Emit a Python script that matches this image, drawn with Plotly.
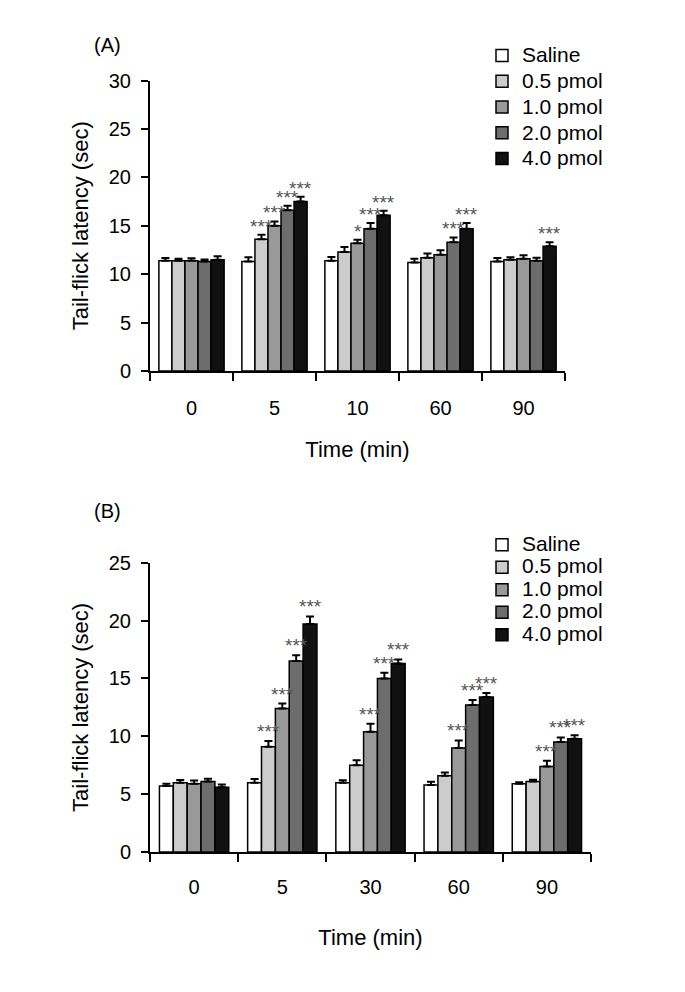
import plotly.graph_objects as go

# ---------------- data ----------------
groups = ["Saline", "0.5 pmol", "1.0 pmol", "2.0 pmol", "4.0 pmol"]
colors = ["#ffffff", "#cccccc", "#999999", "#6d6d6d", "#111111"]

times_a = ["0", "5", "10", "60", "90"]
a_saline = [11.4, 11.3, 11.4, 11.2, 11.3]
a_p05 = [11.4, 13.6, 12.3, 11.7, 11.5]
a_p10 = [11.4, 15.0, 13.2, 12.0, 11.6]
a_p20 = [11.3, 16.6, 14.7, 13.3, 11.4]
a_p40 = [11.5, 17.5, 16.1, 14.7, 12.9]
a_err_saline = [0.27, 0.45, 0.38, 0.40, 0.38]
a_err_p05 = [0.20, 0.48, 0.50, 0.45, 0.25]
a_err_p10 = [0.25, 0.45, 0.35, 0.48, 0.37]
a_err_p20 = [0.22, 0.48, 0.58, 0.50, 0.30]
a_err_p40 = [0.35, 0.50, 0.45, 0.58, 0.40]
a_sig_saline = ["", "", "", "", ""]
a_sig_p05 = ["", "***", "", "", ""]
a_sig_p10 = ["", "***", "*", "", ""]
a_sig_p20 = ["", "***", "***", "***", ""]
a_sig_p40 = ["", "***", "***", "***", "***"]

times_b = ["0", "5", "30", "60", "90"]
b_saline = [5.7, 6.0, 6.0, 5.8, 5.9]
b_p05 = [6.0, 9.1, 7.5, 6.6, 6.1]
b_p10 = [5.9, 12.4, 10.4, 9.0, 7.4]
b_p20 = [6.1, 16.5, 15.0, 12.7, 9.5]
b_p40 = [5.6, 19.7, 16.3, 13.4, 9.8]
b_err_saline = [0.20, 0.32, 0.20, 0.28, 0.14]
b_err_p05 = [0.23, 0.49, 0.43, 0.28, 0.14]
b_err_p10 = [0.28, 0.43, 0.68, 0.65, 0.50]
b_err_p20 = [0.23, 0.51, 0.49, 0.43, 0.40]
b_err_p40 = [0.23, 0.66, 0.34, 0.34, 0.30]
b_sig_saline = ["", "", "", "", ""]
b_sig_p05 = ["", "***", "", "", ""]
b_sig_p10 = ["", "***", "***", "***", "***"]
b_sig_p20 = ["", "***", "***", "***", "***"]
b_sig_p40 = ["", "***", "***", "***", "***"]

# ---------------- figure ----------------
W, H = 685, 992
FONT = "Liberation Sans, Arial, sans-serif"
BARGAP = 0.214
barw = (1 - BARGAP) / len(groups)

fig = go.Figure()

panels = [
    dict(xa="x", ya="y", legend="legend", times=times_a, yshift=-4,
         vals=[a_saline, a_p05, a_p10, a_p20, a_p40],
         errs=[a_err_saline, a_err_p05, a_err_p10, a_err_p20, a_err_p40],
         sigs=[a_sig_saline, a_sig_p05, a_sig_p10, a_sig_p20, a_sig_p40]),
    dict(xa="x2", ya="y2", legend="legend2", times=times_b, yshift=-3,
         vals=[b_saline, b_p05, b_p10, b_p20, b_p40],
         errs=[b_err_saline, b_err_p05, b_err_p10, b_err_p20, b_err_p40],
         sigs=[b_sig_saline, b_sig_p05, b_sig_p10, b_sig_p20, b_sig_p40]),
]

annotations = []
for p in panels:
    for i, g in enumerate(groups):
        fig.add_trace(go.Bar(
            x=p["times"], y=p["vals"][i],
            name='<span style="font-size:21px">' + g + '</span>',
            xaxis=p["xa"], yaxis=p["ya"], legend=p["legend"],
            marker=dict(color=colors[i], line=dict(color="black", width=1.5)),
            error_y=dict(type="data", array=p["errs"][i], symmetric=False,
                         arrayminus=[0] * len(p["times"]),
                         color="black", thickness=2, width=4),
        ))
        for j, s in enumerate(p["sigs"][i]):
            if s:
                annotations.append(dict(
                    x=j + (i - 2) * barw, y=p["vals"][i][j] + p["errs"][i][j],
                    xref=p["xa"], yref=p["ya"], text=s,
                    showarrow=False, yanchor="bottom", xanchor="center",
                    yshift=p["yshift"],
                    font=dict(size=19, color="#555555", family=FONT)))

annotations.append(dict(x=100 / W, y=1 - 27 / H, xref="paper", yref="paper",
                        xanchor="center", yanchor="middle",
                        text="(A)", showarrow=False, font=dict(size=20, family=FONT, color="black")))
annotations.append(dict(x=100 / W, y=1 - 503 / H, xref="paper", yref="paper",
                        xanchor="center", yanchor="middle",
                        text="(B)", showarrow=False, font=dict(size=20, family=FONT, color="black")))

axis_common = dict(showline=True, linecolor="black", linewidth=2, ticks="outside",
                   tickwidth=2, tickcolor="black", showgrid=False, zeroline=False,
                   tickfont=dict(size=20, family=FONT, color="black"))

xtitle_a = dict(text="Time (min)", font=dict(size=22, family=FONT), standoff=24)
xtitle_b = dict(text="Time (min)", font=dict(size=22, family=FONT), standoff=32)
ytitle = dict(text="Tail-flick latency (sec)", font=dict(size=22, family=FONT), standoff=14)

fig.update_layout(
    width=W, height=H, margin=dict(l=0, r=0, t=0, b=0),
    paper_bgcolor="white", plot_bgcolor="white",
    barmode="group", bargap=BARGAP, bargroupgap=0,
    font=dict(family=FONT, color="black"),
    xaxis=dict(domain=[142 / W, 557 / W], anchor="y", type="category",
               tickson="boundaries", ticklen=8, ticklabelstandoff=18,
               title=xtitle_a, **axis_common),
    yaxis=dict(domain=[1 - 360 / H, 1 - 63 / H], anchor="x", range=[0, 30], dtick=5,
               ticklen=7, ticklabelstandoff=6, title=ytitle, **axis_common),
    xaxis2=dict(domain=[142 / W, 583 / W], anchor="y2", type="category",
                tickson="boundaries", ticklen=8, ticklabelstandoff=16,
                title=xtitle_b, **axis_common),
    yaxis2=dict(domain=[1 - 852 / H, 1 - 556 / H], anchor="x2", range=[0, 25], dtick=5,
                ticklen=7, ticklabelstandoff=6, title=ytitle, **axis_common),
    legend=dict(x=474 / W, y=1 - 19 / H, xanchor="left", yanchor="top",
                font=dict(size=17.5, family=FONT), tracegroupgap=0,
                bgcolor="rgba(0,0,0,0)", itemwidth=30),
    legend2=dict(x=474 / W, y=1 - 521 / H, xanchor="left", yanchor="top",
                 font=dict(size=15, family=FONT), tracegroupgap=0,
                 bgcolor="rgba(0,0,0,0)", itemwidth=30),
    annotations=annotations,
    showlegend=True,
)

fig.write_html("out.html")
